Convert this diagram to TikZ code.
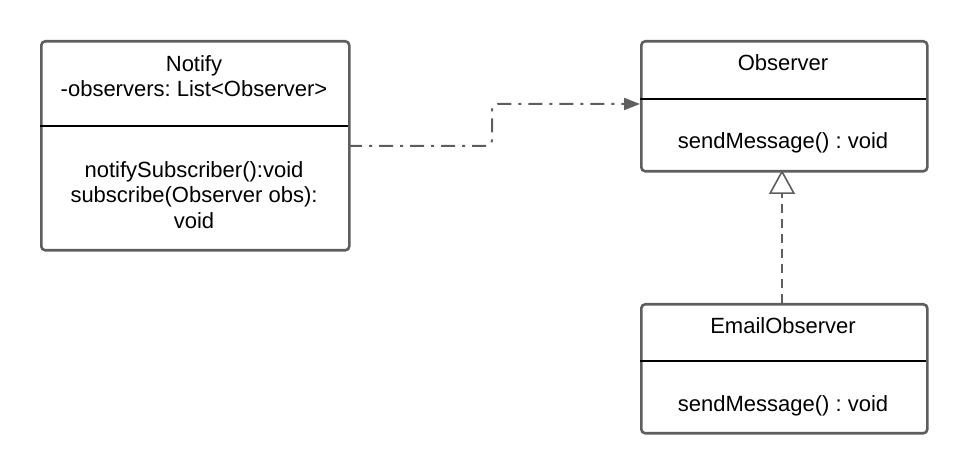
\documentclass[tikz,border=0pt]{standalone}
\usepackage{fontspec}
\setmainfont{Liberation Sans}
\usetikzlibrary{arrows.meta}
\definecolor{linegray}{HTML}{5E5E5E}
\frenchspacing
\begin{document}
\begin{tikzpicture}[x=1pt,y=1pt,
  umlbox/.style={draw=linegray, line width=2.6pt, rounded corners=4pt, fill=white},
  divider/.style={draw=black, line width=1.2pt},
  lbl/.style={font=\fontsize{22}{25.5}\selectfont, align=center, inner sep=0pt},
  dep/.style={draw=linegray, line width=2pt, rounded corners=6pt, dash pattern=on 14pt off 7pt on 3pt off 7pt, -{Triangle[length=16pt,width=12pt,fill=linegray]}},
  real/.style={draw=linegray, line width=2pt, dash pattern=on 9pt off 6pt, -{Triangle[open,length=24pt,width=26pt,line width=1.6pt]}}
]
\useasboundingbox (0,0) rectangle (966,473);
% Notify
\node[umlbox, minimum width=308pt, minimum height=209pt, anchor=north west] (notify) at (40,433) {};
\draw[divider] (40,347) -- (348,347);
\node[lbl] (notifyname) at (194,397) {Notify\\-observers: List<Observer>};
\node[lbl] (notifyops) at (194,278) {notifySubscriber():void\\subscribe(Observer obs):\\void};
% Observer
\node[umlbox, minimum width=286pt, minimum height=130pt, anchor=north west] (observer) at (640,433) {};
\draw[divider] (640,374) -- (926,374);
\node[lbl] (obsname) at (783,410) {Observer};
\node[lbl] (obsops) at (783,330) {sendMessage() : void};
% EmailObserver
\node[umlbox, minimum width=286pt, minimum height=129pt, anchor=north west] (email) at (640,170) {};
\draw[divider] (640,112) -- (926,112);
\node[lbl] (emailname) at (783,147) {EmailObserver};
\node[lbl] (emailops) at (783,67) {sendMessage() : void};
% connectors
\coordinate (depstart) at (348,327);
\coordinate (depend) at (640,369);
\draw[dep] (depstart) -- (492,327) -- (492,369) -- (depend);
\coordinate (realstart) at (782,170);
\coordinate (realend) at (782,303);
\draw[real] (realstart) -- (realend);
\end{tikzpicture}
\end{document}
